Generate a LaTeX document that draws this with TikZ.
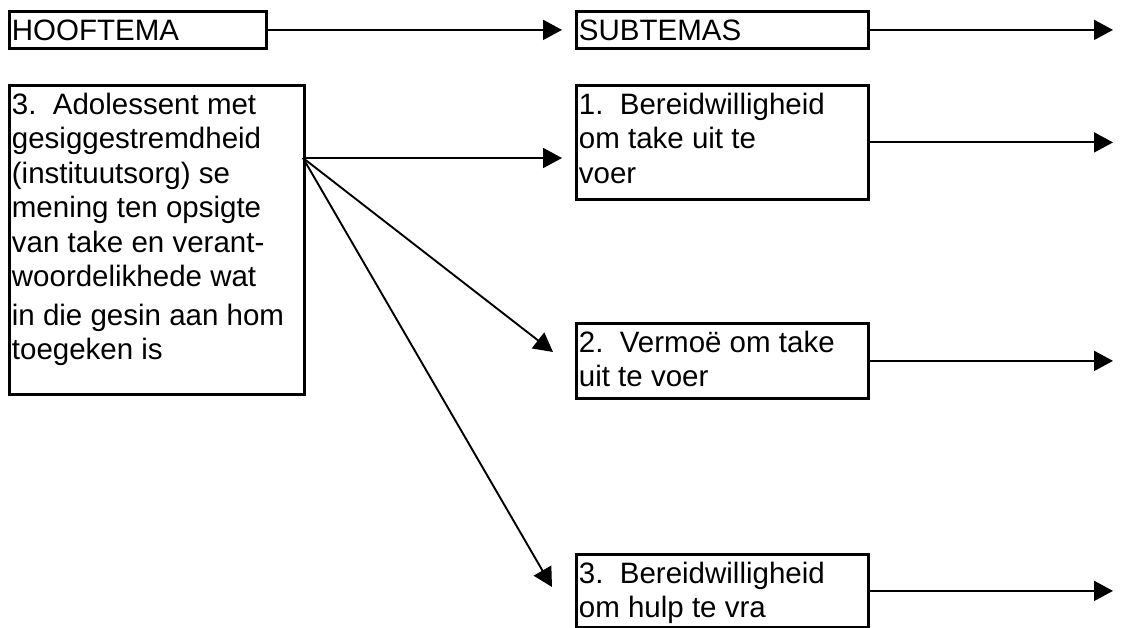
\documentclass[tikz,border=0pt]{standalone}
\usepackage{fontspec}
\setmainfont{Liberation Sans}
\usetikzlibrary{arrows.meta}
\newcommand{\bxt}[4]{\parbox[t][#2][#3]{#1}{\raggedright #4}}
\newcommand{\bxtop}[3]{\parbox[t][#2][t]{#1}{\raggedright\vspace*{7.5pt}#3}}
\begin{document}
\begin{tikzpicture}[x=1pt,y=-1pt,
  box/.style={draw, line width=2.8pt, inner xsep=2.5pt, inner ysep=0pt, anchor=north west},
  conn/.style={line width=1.9pt, -{Triangle[length=19pt,width=20pt]}},
  font=\fontsize{29.5pt}{34.5pt}\selectfont]
\useasboundingbox (0,0) rectangle (1128,628);

\node[box] (hoof) at (8,10) {\bxt{252pt}{37pt}{c}{HOOFTEMA}};
\node[box] (sub) at (575,10) {\bxt{287pt}{37pt}{c}{SUBTEMAS}};
\node[box] (main) at (8,84) {\bxtop{290pt}{309pt}{3.\ \ Adolessent met\\ gesiggestremdheid\\ (instituutsorg) se\\ mening ten opsigte\\ van take en verant-\\ woordelikhede wat\\[4pt] in die gesin aan hom\\ toegeken is}};
\node[box] (b1) at (575,84) {\bxtop{287pt}{114pt}{1.\ \ Bereidwilligheid\\ om take uit te\\ voer}};
\node[box] (b2) at (575,322) {\bxtop{287pt}{75pt}{2.\ \ Vermoë om take\\ uit te voer}};
\node[box] (b3) at (575,553) {\bxtop{287pt}{73pt}{3.\ \ Bereidwilligheid\\ om hulp te vra}};

\coordinate (t0) at (562,0);
\coordinate (tipx) at (1113,0);
\coordinate (f) at (303,158);
\coordinate (a1) at (562,158);
\coordinate (a2) at (553,352);
\coordinate (a3) at (552,587);

\draw[conn] (hoof.east) -- (hoof.east -| t0);
\draw[conn] (sub.east) -- (sub.east -| tipx);
\draw[conn] (f) -- (a1);
\draw[conn] (f) -- (a2);
\draw[conn] (f) -- (a3);
\draw[conn] (b1.east) -- (b1.east -| tipx);
\draw[conn] (b2.east) -- (b2.east -| tipx);
\draw[conn] (b3.east) -- (b3.east -| tipx);
\end{tikzpicture}
\end{document}
